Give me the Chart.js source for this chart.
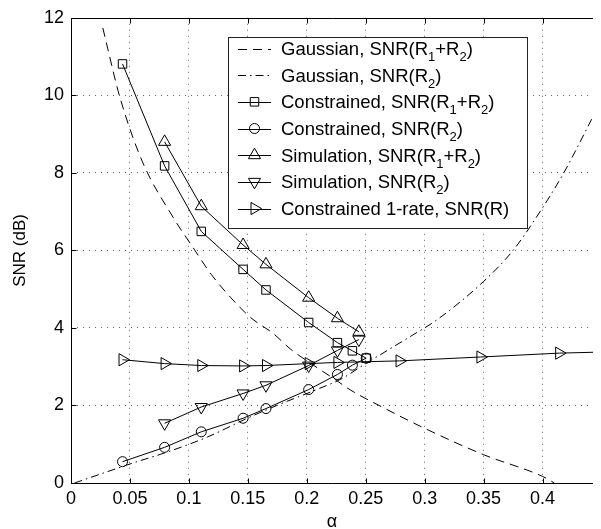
<!DOCTYPE html>
<html><head><meta charset="utf-8">
<script src="https://cdn.jsdelivr.net/npm/chart.js@4.4.0/dist/chart.umd.min.js"></script>
<style>html,body{margin:0;padding:0;background:#fff;}canvas{display:block;}</style>
</head><body>
<canvas id="c" width="601" height="529"></canvas>
<script>
// ---------- data ----------
const xTicks = [0, 0.05, 0.1, 0.15, 0.2, 0.25, 0.3, 0.35, 0.4];
const xTickLabels = ['0', '0.05', '0.1', '0.15', '0.2', '0.25', '0.3', '0.35', '0.4'];
const yTicks = [0, 2, 4, 6, 8, 10, 12];
const yTickLabels = ['0', '2', '4', '6', '8', '10', '12'];

const seriesLabels = [
  'Gaussian, SNR(R_1+R_2)',
  'Gaussian, SNR(R_2)',
  'Constrained, SNR(R_1+R_2)',
  'Constrained, SNR(R_2)',
  'Simulation, SNR(R_1+R_2)',
  'Simulation, SNR(R_2)',
  'Constrained 1-rate, SNR(R)'
];

const alphaGaussSum = [0.027, 0.0312, 0.041, 0.0604, 0.0869, 0.1036, 0.119, 0.1356, 0.1523, 0.1718, 0.186, 0.21, 0.225, 0.237, 0.2665, 0.3, 0.35, 0.4, 0.41];
const snrGaussSum   = [11.74, 11.2, 10.0, 8.3, 6.84, 6.07, 5.38, 4.78, 4.27, 3.85, 3.46, 2.95, 2.65, 2.4, 1.92, 1.41, 0.73, 0.17, 0.0];

const alphaGaussR2 = [0.003, 0.052, 0.0827, 0.116, 0.1495, 0.1746, 0.2108, 0.229, 0.25, 0.27, 0.29, 0.31, 0.35, 0.375, 0.4, 0.418, 0.4428];
const snrGaussR2   = [0.0, 0.51, 0.81, 1.19, 1.67, 2.0, 2.44, 2.68, 3.08, 3.45, 3.82, 4.2, 5.2, 6.0, 7.1, 8.0, 9.45];

const alphaConstrained = [0.0437, 0.0794, 0.1105, 0.146, 0.1654, 0.2016, 0.226, 0.2387, 0.2504];
const snrConstrainedSum = [10.81, 8.18, 6.49, 5.51, 4.98, 4.14, 3.62, 3.41, 3.22];
const snrConstrainedR2  = [0.55, 0.92, 1.32, 1.67, 1.92, 2.41, 2.80, 3.04, 3.22];

const alphaSim = [0.0794, 0.1105, 0.146, 0.1654, 0.2016, 0.226, 0.2442];
const snrSimSum = [8.80, 7.14, 6.14, 5.64, 4.78, 4.25, 3.90];
const snrSimR2  = [1.54, 1.96, 2.31, 2.52, 3.03, 3.42, 3.70];

const alphaOneRate = [0.0437, 0.0794, 0.1105, 0.146, 0.1654, 0.2016, 0.226, 0.2787, 0.3473, 0.4141, 0.48];
const snrOneRate   = [3.18, 3.08, 3.03, 3.02, 3.03, 3.08, 3.11, 3.15, 3.25, 3.35, 3.40];

// ---------- build ----------
const FONT = "'Liberation Sans', Arial, Helvetica, sans-serif";
const pts = (xs, ys) => xs.map((x, i) => ({x: x, y: ys[i]}));

const DASHED = [9, 6];
const DASHDOT = [8, 4, 1.5, 4];

const styles = [
  {dash: DASHED, point: false, smooth: true},
  {dash: DASHDOT, point: false, smooth: true},
  {dash: [], point: 'rect', radius: 6, rotation: 0},
  {dash: [], point: 'circle', radius: 5, rotation: 0},
  {dash: [], point: 'triangle', radius: 7, rotation: 0},
  {dash: [], point: 'triangle', radius: 7, rotation: 180},
  {dash: [], point: 'triangle', radius: 7, rotation: 90}
];

const dataList = [
  pts(alphaGaussSum, snrGaussSum),
  pts(alphaGaussR2, snrGaussR2),
  pts(alphaConstrained, snrConstrainedSum),
  pts(alphaConstrained, snrConstrainedR2),
  pts(alphaSim, snrSimSum),
  pts(alphaSim, snrSimR2),
  pts(alphaOneRate, snrOneRate)
];

const datasets = dataList.map((d, i) => {
  const s = styles[i];
  const ds = {
    label: seriesLabels[i],
    data: d,
    borderColor: '#000',
    borderWidth: 1,
    borderDash: s.dash,
    backgroundColor: 'rgba(0,0,0,0)',
    pointStyle: s.point || 'circle',
    pointRadius: s.point ? s.radius : 0,
    pointRotation: s.rotation || 0,
    pointBorderColor: '#000',
    pointBackgroundColor: 'rgba(0,0,0,0)',
    pointBorderWidth: 1,
    pointHoverRadius: s.point ? s.radius : 0,
    tension: 0,
    fill: false
  };
  if (s.smooth) ds.cubicInterpolationMode = 'monotone';
  return ds;
});

function drawRich(ctx, str, x, baseline, size) {
  // "_c" marks a subscript character
  let cx = x;
  let i = 0;
  while (i < str.length) {
    if (str[i] === '_' && i + 1 < str.length) {
      ctx.font = Math.round(size * 0.72) + 'px ' + FONT;
      ctx.fillText(str[i + 1], cx, baseline + 6);
      cx += ctx.measureText(str[i + 1]).width;
      i += 2;
    } else {
      let j = i;
      while (j < str.length && str[j] !== '_') j++;
      const seg = str.slice(i, j);
      ctx.font = size + 'px ' + FONT;
      ctx.fillText(seg, cx, baseline);
      cx += ctx.measureText(seg).width;
      i = j;
    }
  }
}

const framePlugin = {
  id: 'frame',
  afterDatasetsDraw(chart) {
    const ctx = chart.ctx;
    const a = chart.chartArea;
    const xs = chart.scales.x, ys = chart.scales.y;
    ctx.save();
    ctx.setLineDash([]);
    ctx.strokeStyle = '#000';
    ctx.lineWidth = 1;
    ctx.beginPath();
    const L = Math.round(a.left) + 0.5, T = Math.round(a.top) + 0.5, B = Math.round(a.bottom) + 0.5;
    ctx.moveTo(L, T);
    ctx.lineTo(L, B);
    ctx.lineTo(a.right, B);
    ctx.moveTo(L, T);
    ctx.lineTo(a.right, T);
    // inward ticks
    xs.ticks.forEach((t, i) => {
      const px = Math.round(xs.getPixelForTick(i)) + 0.5;
      ctx.moveTo(px, B);
      ctx.lineTo(px, B - 5);
      ctx.moveTo(px, T);
      ctx.lineTo(px, T + 5);
    });
    ys.ticks.forEach((t, i) => {
      const py = Math.round(ys.getPixelForTick(i)) + 0.5;
      ctx.moveTo(L, py);
      ctx.lineTo(L + 5, py);
    });
    ctx.stroke();
    ctx.restore();
  },
  afterDraw(chart) {
    // legend box
    const ctx = chart.ctx;
    const L = 228, T = 37, R = 527, B = 228;
    ctx.save();
    ctx.setLineDash([]);
    ctx.fillStyle = '#fff';
    ctx.fillRect(L, T, R - L, B - T);
    ctx.strokeStyle = '#222';
    ctx.lineWidth = 1;
    ctx.strokeRect(L + 0.5, T + 0.5, R - L, B - T);
    const rowH = 26.67;
    seriesLabels.forEach((lab, i) => {
      const cy = 48.5 + i * rowH;
      const s = styles[i];
      ctx.strokeStyle = '#000';
      ctx.lineWidth = 1;
      ctx.setLineDash(s.dash);
      ctx.beginPath();
      ctx.moveTo(238, Math.round(cy) + 0.5);
      ctx.lineTo(271, Math.round(cy) + 0.5);
      ctx.stroke();
      ctx.setLineDash([]);
      if (s.point) {
        ctx.fillStyle = 'rgba(0,0,0,0)';
        Chart.helpers.drawPoint(ctx, {pointStyle: s.point, rotation: s.rotation, radius: s.radius, borderWidth: 1}, 254.5, cy);
      }
      ctx.fillStyle = '#000';
      ctx.textBaseline = 'alphabetic';
      ctx.textAlign = 'left';
      drawRich(ctx, lab, 281, cy + 6.5, 18.5);
    });
    ctx.restore();
  }
};

const gridColor = (ctx, ticksArr) => {
  const v = ctx.tick ? ctx.tick.value : null;
  return (v === ticksArr[0] || v === ticksArr[ticksArr.length - 1] && ticksArr === yTicks) ? 'rgba(0,0,0,0)' : '#666';
};

new Chart(document.getElementById('c'), {
  type: 'line',
  data: {datasets: datasets},
  plugins: [framePlugin],
  options: {
    responsive: false,
    animation: false,
    devicePixelRatio: 1,
    layout: {padding: {top: 15, right: 0, left: 0, bottom: 0}},
    plugins: {legend: {display: false}, tooltip: {enabled: false}},
    elements: {line: {borderCapStyle: 'butt'}},
    scales: {
      x: {
        type: 'linear',
        min: 0,
        max: 0.4428,
        afterBuildTicks: (sc) => { sc.ticks = xTicks.map(v => ({value: v})); },
        afterFit: (sc) => { sc.height = 46; },
        ticks: {
          callback: (v) => { const k = xTicks.indexOf(v); return k >= 0 ? xTickLabels[k] : ''; },
          font: {family: FONT, size: 18},
          color: '#000',
          padding: 5,
          maxRotation: 0,
          autoSkip: false
        },
        grid: {color: (c) => gridColor(c, xTicks), lineWidth: 1, drawTicks: false},
        border: {display: false, dash: [1, 5]},
        title: {display: true, text: 'α', font: {family: FONT, size: 18, lineHeight: 1}, color: '#000', padding: {top: 0, bottom: -2}}
      },
      y: {
        type: 'linear',
        min: 0,
        max: 12,
        afterBuildTicks: (sc) => { sc.ticks = yTicks.map(v => ({value: v})); },
        afterFit: (sc) => { sc.width = 71; },
        ticks: {
          callback: (v) => { const k = yTicks.indexOf(v); return k >= 0 ? yTickLabels[k] : ''; },
          font: {family: FONT, size: 18},
          color: '#000',
          padding: 7
        },
        grid: {color: (c) => gridColor(c, yTicks), lineWidth: 1, drawTicks: false},
        border: {display: false, dash: [1, 5]},
        title: {display: true, text: 'SNR (dB)', font: {family: FONT, size: 17}, color: '#000', padding: {top: 10, bottom: 0}}
      }
    }
  }
});
</script>
</body></html>
